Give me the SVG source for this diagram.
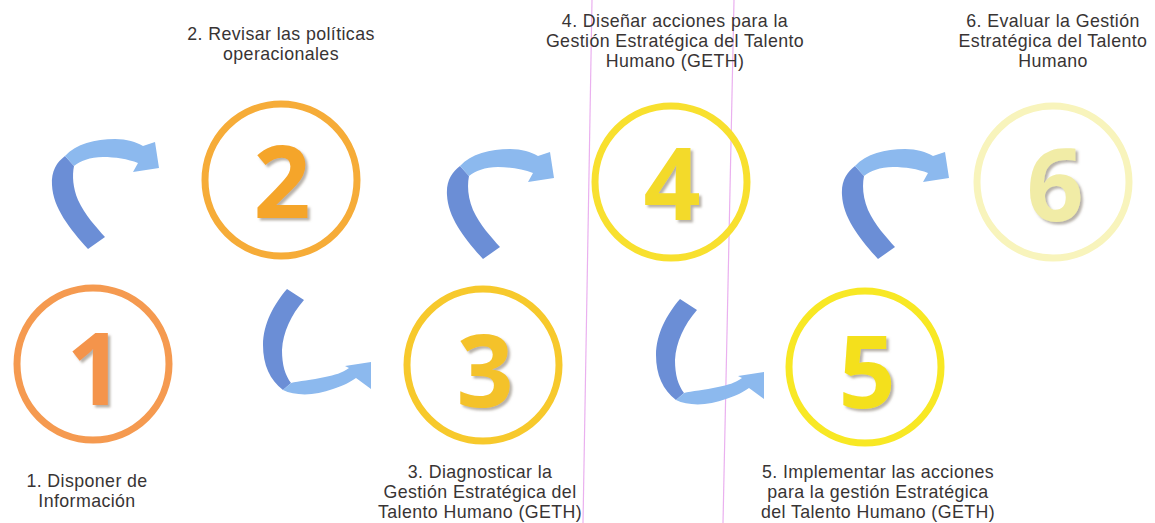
<svg xmlns="http://www.w3.org/2000/svg" width="1155" height="523" viewBox="0 0 1155 523">
  <style>
    .ring { fill: none; stroke-width: 7; }
    .num { font-family: "Open Sans", "Noto Sans", sans-serif; font-weight: 700; font-size: 100px; text-anchor: middle; filter: url(#shadow); }
    .lbl { font-family: "Liberation Sans", Arial, sans-serif; font-size: 17.8px; letter-spacing: 0.4px; fill: #383434; text-anchor: middle; }
    .dark { fill: #6b8ed6; }
    .light { fill: #8cb9ee; }
    .scan { stroke: #eab0ef; stroke-width: 1.2; fill: none; }
  </style>
  <defs>
    <filter id="shadow" x="-20%" y="-20%" width="140%" height="140%">
      <feDropShadow dx="2.5" dy="2.5" stdDeviation="1.2" flood-color="#7d7264" flood-opacity="0.55"/>
    </filter>
    <g id="arrowUp">
      <path class="dark" d="M88,249 C70,229 53,208 52,185 C51,171 57,162 65,156 L74,166 C72,176 73,188 78,200 C85,215 96,227 105,237 Z"/>
      <path class="light" d="M65,156 C76,144 95,139 115,139 C127,139 136,142 143,146 L155,142 L159,168 L133,172 L138,163 C128,159 115,157 103,157 C90,157 80,161 74,166 Z"/>
    </g>
    <g id="arrowDown">
      <path class="dark" d="M287,289 L304,300 C291,315 283,332 282,350 C282,365 285,375 291,383 L283,390 C270,380 263,365 263,345 C263,324 274,304 287,289 Z"/>
      <path class="light" d="M283,390 C295,396 315,396 333,389 C343,386 350,382 356,378 L371,389 L371,362 L345,366 L349,368 C342,373 335,375 325,377 C312,380 298,381 291,383 Z"/>
    </g>
  </defs>

  <rect width="1155" height="523" fill="#ffffff"/>

  <g id="scan-lines">
    <line class="scan" x1="592" y1="0" x2="583" y2="523"/>
    <line class="scan" x1="734" y1="0" x2="723" y2="523"/>
  </g>

  <g id="connectors">
    <use href="#arrowUp"/>
    <use href="#arrowDown"/>
    <use href="#arrowUp" transform="translate(395,10)"/>
    <use href="#arrowDown" transform="translate(393,10)"/>
    <use href="#arrowUp" transform="translate(790,10)"/>
  </g>

  <g id="node1">
    <circle class="ring" cx="93" cy="364" r="76" stroke="#f59a50"/>
    <text class="num" x="95" y="405" fill="#f4944c">1</text>
    <text class="lbl" x="87" y="487">1. Disponer de</text>
    <text class="lbl" x="87" y="507">Información</text>
  </g>

  <g id="node2">
    <circle class="ring" cx="281" cy="180" r="76" stroke="#f6ac38"/>
    <text class="num" x="282" y="218" fill="#f5a52c">2</text>
    <text class="lbl" x="281" y="40">2. Revisar las políticas</text>
    <text class="lbl" x="281" y="60">operacionales</text>
  </g>

  <g id="node3">
    <circle class="ring" cx="483" cy="365" r="76" stroke="#f7c92c"/>
    <text class="num" x="485" y="407" fill="#f4c22c">3</text>
    <text class="lbl" x="480" y="478">3. Diagnosticar la</text>
    <text class="lbl" x="480" y="498">Gestión Estratégica del</text>
    <text class="lbl" x="480" y="518">Talento Humano (GETH)</text>
  </g>

  <g id="node4">
    <circle class="ring" cx="671" cy="182" r="76" stroke="#f8e02e"/>
    <text class="num" x="672" y="220" fill="#f3da2a">4</text>
    <text class="lbl" x="675" y="27">4. Diseñar acciones para la</text>
    <text class="lbl" x="675" y="47">Gestión Estratégica del Talento</text>
    <text class="lbl" x="675" y="67">Humano (GETH)</text>
  </g>

  <g id="node5">
    <circle class="ring" cx="865" cy="367" r="76" stroke="#f8e824"/>
    <text class="num" x="867" y="408" fill="#f4e01e">5</text>
    <text class="lbl" x="878" y="478">5. Implementar las acciones</text>
    <text class="lbl" x="878" y="498">para la gestión Estratégica</text>
    <text class="lbl" x="878" y="518">del Talento Humano (GETH)</text>
  </g>

  <g id="node6">
    <circle class="ring" cx="1053" cy="182" r="76" stroke="#f8f4bc"/>
    <text class="num" x="1055" y="221" fill="#f1eca6">6</text>
    <text class="lbl" x="1053" y="27">6. Evaluar la Gestión</text>
    <text class="lbl" x="1053" y="47">Estratégica del Talento</text>
    <text class="lbl" x="1053" y="67">Humano</text>
  </g>
</svg>
